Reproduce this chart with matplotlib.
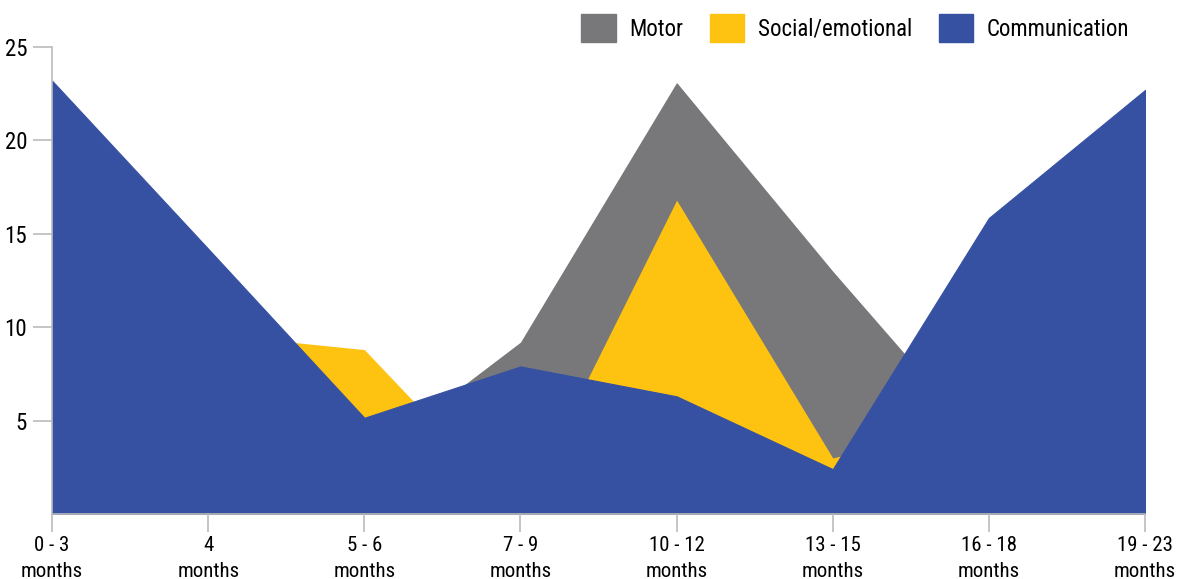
import matplotlib
matplotlib.use("Agg")
import matplotlib.pyplot as plt
from matplotlib.patches import Patch

# Datos (áreas superpuestas, no apiladas)
age_labels = ["0 - 3\nmonths", "4\nmonths", "5 - 6\nmonths", "7 - 9\nmonths",
              "10 - 12\nmonths", "13 - 15\nmonths", "16 - 18\nmonths", "19 - 23\nmonths"]
motor = [4.0, 6.0, 2.85, 9.2, 23.1, 13.0, 3.4, 3.0]
social = [6.0, 9.65, 8.8, 0.0, 16.8, 3.0, 5.0, 4.0]
communication = [23.2, 14.2, 5.15, 7.9, 6.3, 2.4, 15.85, 22.7]
y_ticks = [5, 10, 15, 20, 25]

c_motor = "#78787a"
c_social = "#fec210"
c_comm = "#3650a2"

plt.rcParams["font.family"] = ["Liberation Sans Narrow", "Roboto Condensed", "DejaVu Sans"]

fig = plt.figure(figsize=(11.83, 5.79), dpi=100)
ax = fig.add_axes([0.044, 0.1123, 0.9239, 0.8065])

x = list(range(len(age_labels)))
ax.fill_between(x, motor, 0, color=c_motor, lw=0)
ax.fill_between(x, social, 0, color=c_social, lw=0)
ax.fill_between(x, communication, 0, facecolor=c_comm, edgecolor=c_comm, lw=0.8)

ax.set_xlim(0, len(x) - 1)
ax.set_ylim(0, 25)
ax.set_yticks(y_ticks)
ax.set_xticks(x)
ax.set_xticklabels(age_labels, fontsize=15, linespacing=1.45)
ax.tick_params(axis="y", labelsize=16.5, length=14, width=1.2, color="#bbbbbb", pad=4)
ax.tick_params(axis="x", length=13, width=1.2, color="#bbbbbb", pad=3)

for s in ["top", "right"]:
    ax.spines[s].set_visible(False)
for s in ["left", "bottom"]:
    ax.spines[s].set_color("#bbbbbb")
    ax.spines[s].set_linewidth(1.2)

handles = [Patch(color=c_motor, label="Motor"),
           Patch(color=c_social, label="Social/emotional"),
           Patch(color=c_comm, label="Communication")]
fig.legend(handles=handles, loc="upper right", bbox_to_anchor=(0.972, 1.012), ncol=3,
           frameon=False, fontsize=16.5, handlelength=1.5, handleheight=1.55,
           handletextpad=0.6, columnspacing=1.15)

fig.savefig("out.png", dpi=100)
